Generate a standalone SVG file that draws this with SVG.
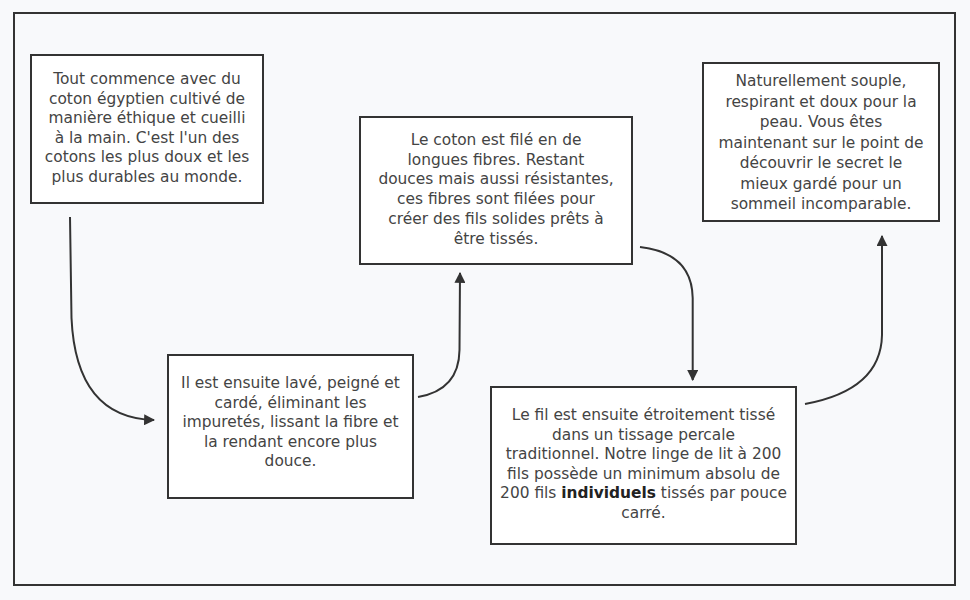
<svg xmlns="http://www.w3.org/2000/svg" width="970" height="600" viewBox="0 0 970 600">
<defs>
<style>
.bg{fill:#f8f9fb}
.frame{fill:none;stroke:#333;stroke-width:2}
.box{fill:#ffffff;stroke:#333;stroke-width:2}
.t{font-family:"DejaVu Sans",sans-serif;font-size:15.4px;fill:#444444;text-anchor:middle}
.b{font-weight:bold;fill:#222}
.c{fill:none;stroke:#333;stroke-width:2}
</style>
<marker id="ah" viewBox="0 0 10 10" refX="9" refY="5" markerWidth="5.5" markerHeight="5.5" orient="auto" markerUnits="strokeWidth">
<path d="M0,0 L10,5 L0,10 z" fill="#333"/>
</marker>
</defs>
<rect class="bg" x="0" y="0" width="970" height="600"/>
<rect class="frame" x="14" y="13" width="941" height="572"/>
<g id="connectors">
<path class="c" d="M70,217 L71.5,318 Q76,418 154,420" marker-end="url(#ah)"/>
<path class="c" d="M418,397 Q459,390 459.5,350 L460,273" marker-end="url(#ah)"/>
<path class="c" d="M640,247 Q692,253 692.7,298 L692.7,380" marker-end="url(#ah)"/>
<path class="c" d="M805,404 Q881,390 882,335 L882,236" marker-end="url(#ah)"/>
</g>
<g id="node1">
<rect class="box" x="31" y="55" width="232" height="148"/>
<text class="t"><tspan x="147" y="84">Tout commence avec du</tspan><tspan x="147" y="103.6">coton égyptien cultivé de</tspan><tspan x="147" y="123.2">manière éthique et cueilli</tspan><tspan x="147" y="142.8">à la main. C'est l'un des</tspan><tspan x="147" y="162.4">cotons les plus doux et les</tspan><tspan x="147" y="182">plus durables au monde.</tspan></text>
</g>
<g id="node2">
<rect class="box" x="168" y="355" width="245" height="143"/>
<text class="t"><tspan x="290.5" y="388">Il est ensuite lavé, peigné et</tspan><tspan x="290.5" y="407.6">cardé, éliminant les</tspan><tspan x="290.5" y="427.2">impuretés, lissant la fibre et</tspan><tspan x="290.5" y="446.8">la rendant encore plus</tspan><tspan x="290.5" y="466.4">douce.</tspan></text>
</g>
<g id="node3">
<rect class="box" x="360" y="117" width="272" height="147"/>
<text class="t"><tspan x="496" y="145">Le coton est filé en de</tspan><tspan x="496" y="164.7">longues fibres. Restant</tspan><tspan x="496" y="184.4">douces mais aussi résistantes,</tspan><tspan x="496" y="204.1">ces fibres sont filées pour</tspan><tspan x="496" y="223.8">créer des fils solides prêts à</tspan><tspan x="496" y="243.5">être tissés.</tspan></text>
</g>
<g id="node4">
<rect class="box" x="491" y="387" width="305" height="157"/>
<text class="t"><tspan x="643.5" y="420">Le fil est ensuite étroitement tissé</tspan><tspan x="643.5" y="439.6">dans un tissage percale</tspan><tspan x="643.5" y="459.2">traditionnel. Notre linge de lit à 200</tspan><tspan x="643.5" y="478.8">fils possède un minimum absolu de</tspan><tspan x="643.5" y="498.4">200 fils <tspan class="b">individuels</tspan> tissés par pouce</tspan><tspan x="643.5" y="518">carré.</tspan></text>
</g>
<g id="node5">
<rect class="box" x="703" y="63" width="236" height="158"/>
<text class="t"><tspan x="821" y="86">Naturellement souple,</tspan><tspan x="821" y="106.5">respirant et doux pour la</tspan><tspan x="821" y="127">peau. Vous êtes</tspan><tspan x="821" y="147.5">maintenant sur le point de</tspan><tspan x="821" y="168">découvrir le secret le</tspan><tspan x="821" y="188.5">mieux gardé pour un</tspan><tspan x="821" y="209">sommeil incomparable.</tspan></text>
</g>
</svg>
